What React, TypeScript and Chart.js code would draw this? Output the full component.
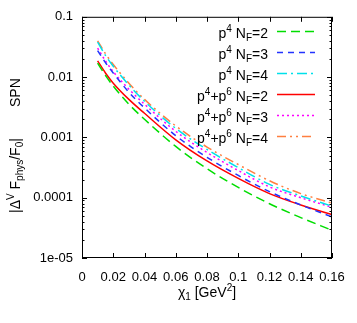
import React, { useEffect, useRef } from 'react';
import { Chart, registerables } from 'chart.js';
Chart.register(...registerables);

// ---- data ----
const xValues = [0.01, 0.015, 0.02, 0.03, 0.04, 0.06, 0.08, 0.10, 0.12, 0.14, 0.16];
const p4NF2 = [0.0170, 0.0107, 0.00708, 0.00355, 0.00200, 0.000708, 0.000302, 0.000148, 0.0000794, 0.0000468, 0.0000288];
const p4NF3 = [0.0275, 0.0174, 0.0117, 0.00562, 0.00309, 0.00107, 0.000468, 0.000234, 0.000126, 0.0000759, 0.0000479];
const p4NF4 = [0.0380, 0.0229, 0.0151, 0.00741, 0.00398, 0.00141, 0.000631, 0.000316, 0.000166, 0.000107, 0.0000724];
const p46NF2 = [0.0186, 0.0117, 0.00794, 0.00427, 0.00251, 0.000912, 0.000407, 0.000209, 0.000117, 0.0000759, 0.0000525];
const p46NF3 = [0.0302, 0.0186, 0.0123, 0.00631, 0.00355, 0.00126, 0.000562, 0.000282, 0.000151, 0.000100, 0.0000692];
const p46NF4 = [0.0398, 0.0245, 0.0162, 0.00794, 0.00427, 0.00155, 0.000692, 0.000355, 0.000191, 0.000117, 0.0000813];

const xTickValues = [0, 0.02, 0.04, 0.06, 0.08, 0.1, 0.12, 0.14, 0.16];
const xTickLabels = ['0', '0.02', '0.04', '0.06', '0.08', '0.1', '0.12', '0.14', '0.16'];
const yTickValues = [0.1, 0.01, 0.001, 0.0001, 0.00001];
const yTickLabels = ['0.1', '0.01', '0.001', '0.0001', '1e-05'];

type Seg = [string, 'n' | 'sup' | 'sub'];
const legendLabels: Seg[][] = [
  [['p', 'n'], ['4', 'sup'], [' N', 'n'], ['F', 'sub'], ['=2', 'n']],
  [['p', 'n'], ['4', 'sup'], [' N', 'n'], ['F', 'sub'], ['=3', 'n']],
  [['p', 'n'], ['4', 'sup'], [' N', 'n'], ['F', 'sub'], ['=4', 'n']],
  [['p', 'n'], ['4', 'sup'], ['+p', 'n'], ['6', 'sup'], [' N', 'n'], ['F', 'sub'], ['=2', 'n']],
  [['p', 'n'], ['4', 'sup'], ['+p', 'n'], ['6', 'sup'], [' N', 'n'], ['F', 'sub'], ['=3', 'n']],
  [['p', 'n'], ['4', 'sup'], ['+p', 'n'], ['6', 'sup'], [' N', 'n'], ['F', 'sub'], ['=4', 'n']],
];
const yTitleMain: Seg[] = [['|Δ', 'n'], ['V', 'sup'], [' F', 'n'], ['phys', 'sub'], ['/F', 'n'], ['0', 'sub'], ['|', 'n']];
const yTitleExtra: Seg[] = [['SPN', 'n']];
const xTitle: Seg[] = [['χ', 'n'], ['1', 'sub'], [' [GeV', 'n'], ['2', 'sup'], [']', 'n']];

const seriesList = [p4NF2, p4NF3, p4NF4, p46NF2, p46NF3, p46NF4];
const colors = ['#00dd00', '#2233ff', '#00e0ea', '#ff0000', '#ff00ff', '#ff7f40'];
const dashes = [[9, 5], [6, 5], [10, 4, 2, 4], [], [2, 3], [9, 4, 2, 4, 2, 4]];

const FONT = '"Liberation Sans", Arial, Helvetica, sans-serif';
const MAIN = 14;
const SMALL = 10;

function segFont(kind: string) {
  return `${kind === 'n' ? MAIN : SMALL}px ${FONT}`;
}
function richWidth(ctx: CanvasRenderingContext2D, segs: Seg[]) {
  let w = 0;
  for (const [t, k] of segs) {
    ctx.font = segFont(k);
    w += ctx.measureText(t).width;
  }
  return w;
}
function drawRich(ctx: CanvasRenderingContext2D, segs: Seg[], x: number, y: number) {
  let cx = x;
  ctx.textBaseline = 'alphabetic';
  ctx.textAlign = 'left';
  for (const [t, k] of segs) {
    ctx.font = segFont(k);
    const dy = k === 'sup' ? -6 : k === 'sub' ? 3 : 0;
    ctx.fillText(t, cx, y + dy);
    cx += ctx.measureText(t).width;
  }
}

const decorPlugin = {
  id: 'decor',
  afterDraw(chart: any) {
    const ctx: CanvasRenderingContext2D = chart.ctx;
    const { left, right, top, bottom } = chart.chartArea;
    const xs = chart.scales.x;
    const ys = chart.scales.y;
    ctx.save();
    ctx.strokeStyle = '#000';
    ctx.lineWidth = 1;
    ctx.setLineDash([]);
    ctx.strokeRect(left + 0.5, top + 0.5, right - left - 1, bottom - top - 1);
    ctx.beginPath();
    for (const v of xTickValues) {
      const px = Math.round(xs.getPixelForValue(v)) + 0.5;
      ctx.moveTo(px, bottom);
      ctx.lineTo(px, bottom - 5);
      ctx.moveTo(px, top);
      ctx.lineTo(px, top + 5);
    }
    for (let e = -5; e <= -1; e++) {
      const d = Math.pow(10, e);
      for (let k = 1; k <= 9; k++) {
        const v = k * d;
        if (v > 0.1 + 1e-12) break;
        const py = Math.round(ys.getPixelForValue(v)) + 0.5;
        const len = k === 1 ? 5 : 2.5;
        ctx.moveTo(left, py);
        ctx.lineTo(left + len, py);
        ctx.moveTo(right, py);
        ctx.lineTo(right - len, py);
      }
    }
    ctx.stroke();

    ctx.fillStyle = '#000';
    // legend
    const textRight = 268;
    for (let i = 0; i < legendLabels.length; i++) {
      const base = 37.5 + i * 21.1;
      const w = richWidth(ctx, legendLabels[i]);
      drawRich(ctx, legendLabels[i], textRight - w, base);
      ctx.save();
      ctx.strokeStyle = colors[i];
      ctx.lineWidth = 1.5;
      ctx.setLineDash(dashes[i]);
      ctx.beginPath();
      ctx.moveTo(277, Math.round(base - 7) + 0.5);
      ctx.lineTo(315, Math.round(base - 7) + 0.5);
      ctx.stroke();
      ctx.restore();
    }
    // x title
    const xw = richWidth(ctx, xTitle);
    drawRich(ctx, xTitle, (left + right) / 2 - xw / 2, 297);
    // y title
    ctx.save();
    ctx.translate(20, 213);
    ctx.rotate(-Math.PI / 2);
    drawRich(ctx, yTitleMain, 0, 0);
    drawRich(ctx, yTitleExtra, 106, 0);
    ctx.restore();
    ctx.restore();
  },
};

export default function App() {
  const ref = useRef<HTMLCanvasElement>(null);
  useEffect(() => {
    if (!ref.current) return;
    const datasets = seriesList.map((s, i) => ({
      data: xValues.map((x, j) => ({ x, y: s[j] })),
      borderColor: colors[i],
      backgroundColor: colors[i],
      borderWidth: 1.5,
      borderDash: dashes[i],
      pointRadius: 0,
      fill: false,
      cubicInterpolationMode: 'monotone' as const,
    }));
    const chart = new Chart(ref.current, {
      type: 'line',
      data: { datasets },
      plugins: [decorPlugin],
      options: {
        responsive: false,
        animation: false,
        devicePixelRatio: 1,
        layout: { padding: { top: 15, right: 25, left: 0, bottom: 0 } },
        plugins: { legend: { display: false }, tooltip: { enabled: false } },
        scales: {
          x: {
            type: 'linear',
            min: 0,
            max: 0.16,
            grid: { display: false, drawTicks: false },
            border: { display: false },
            afterBuildTicks: (s: any) => {
              s.ticks = xTickValues.map((v) => ({ value: v }));
            },
            afterFit: (s: any) => {
              s.height = 65;
            },
            ticks: {
              autoSkip: false,
              maxRotation: 0,
              padding: 12,
              color: '#000',
              font: { family: FONT, size: 13 },
              callback: (_v: any, i: number) => xTickLabels[i],
            },
          },
          y: {
            type: 'logarithmic',
            min: 0.00001,
            max: 0.1,
            grid: { display: false, drawTicks: false },
            border: { display: false },
            afterBuildTicks: (s: any) => {
              s.ticks = yTickValues.map((v) => ({ value: v }));
            },
            afterFit: (s: any) => {
              s.width = 82;
            },
            ticks: {
              autoSkip: false,
              padding: 9,
              color: '#000',
              font: { family: FONT, size: 13 },
              callback: (_v: any, i: number) => yTickLabels[i],
            },
          },
        },
      },
    } as any);
    return () => chart.destroy();
  }, []);
  return (
    <div style={{ position: 'absolute', left: 0, top: 0, width: 357, height: 323, background: '#fff' }}>
      <canvas ref={ref} width={357} height={323} style={{ display: 'block', width: 357, height: 323 }} />
    </div>
  );
}
